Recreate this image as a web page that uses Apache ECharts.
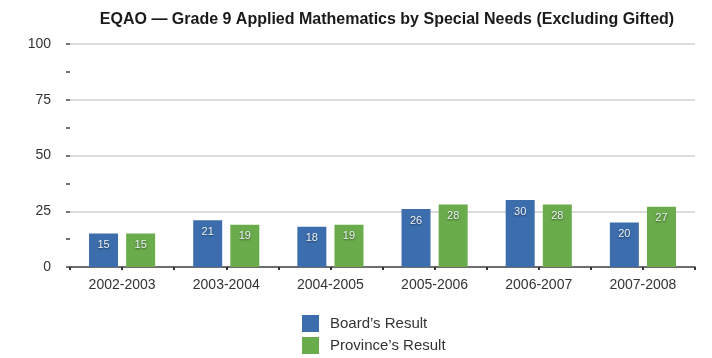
<!DOCTYPE html>
<html>
<head>
<meta charset="utf-8">
<script src="https://cdn.jsdelivr.net/npm/echarts@6/dist/echarts.min.js"></script>
<style>
  html, body { margin: 0; padding: 0; background: #ffffff; }
  #chart { width: 712px; height: 358px; }
</style>
</head>
<body>
<div id="chart"></div>
<script>
// School years shown along the bottom
const years = ['2002-2003', '2003-2004', '2004-2005', '2005-2006', '2006-2007', '2007-2008'];
// Percentage of students at or above the provincial standard
const boardResult = [15, 21, 18, 26, 30, 20];
const provinceResult = [15, 19, 19, 28, 28, 27];
// Value-axis ticks
const yTicks = [0, 25, 50, 75, 100];
// Series names
const seriesNames = ['Board\u2019s Result', 'Province\u2019s Result'];

const FONT = '"Liberation Sans", Arial, Helvetica, sans-serif';
const BLUE = '#3c6eae';
const GREEN = '#6aab4b';

const chart = echarts.init(document.getElementById('chart'));

const barLabel = {
  show: true,
  position: 'insideTop',
  distance: 6,
  color: '#eef2f6',
  fontFamily: FONT,
  fontSize: 11,
  textShadowColor: 'rgba(0,0,0,0.55)',
  textShadowBlur: 2,
  textShadowOffsetY: 1
};

const legendBase = {
  left: 302,
  padding: 0,
  itemWidth: 17,
  itemHeight: 17,
  icon: 'rect',
  textStyle: { fontFamily: FONT, fontSize: 15, color: '#333333', padding: [0, 0, 0, 6] }
};

const gridBox = { left: 70, right: 17, top: 44, bottom: 91 };

chart.setOption({
  animation: false,
  backgroundColor: '#ffffff',
  title: {
    text: 'EQAO \u2014 Grade 9 Applied Mathematics by Special Needs (Excluding Gifted)',
    left: 382,
    textAlign: 'center',
    top: 7,
    textStyle: { fontFamily: FONT, fontSize: 16, fontWeight: 'bold', color: '#1a1a1a' }
  },
  legend: [
    Object.assign({}, legendBase, { top: 315, data: [seriesNames[0]] }),
    Object.assign({}, legendBase, { top: 337, data: [seriesNames[1]] })
  ],
  // second grid overlays the first and only carries the baseline tick marks
  grid: [Object.assign({}, gridBox), Object.assign({}, gridBox)],
  xAxis: [
    {
      type: 'category',
      gridIndex: 0,
      data: years,
      axisLine: { show: true, onZero: false, lineStyle: { color: '#4a4a4a', width: 1.5 } },
      axisTick: { show: false },
      axisLabel: { fontFamily: FONT, fontSize: 14, color: '#333333', margin: 11 }
    },
    {
      // a tick at every category edge and every category centre
      type: 'value',
      gridIndex: 1,
      position: 'bottom',
      min: 0,
      max: years.length * 2,
      interval: 1,
      axisLine: { show: false },
      axisTick: { show: true, length: 3, lineStyle: { color: '#333333', width: 2 } },
      axisLabel: { show: false },
      splitLine: { show: false }
    }
  ],
  yAxis: [
    {
      type: 'value',
      gridIndex: 0,
      min: yTicks[0],
      max: yTicks[yTicks.length - 1],
      interval: 25,
      axisLine: { show: false },
      axisTick: { show: true, inside: false, length: 4, lineStyle: { color: '#444444', width: 1.5 } },
      minorTick: { show: true, splitNumber: 2, length: 4, lineStyle: { color: '#444444', width: 1.5 } },
      axisLabel: { fontFamily: FONT, fontSize: 14, color: '#333333', margin: 19 },
      splitLine: { show: true, lineStyle: { color: '#cfcfcf', width: 1.5 } }
    },
    {
      type: 'value',
      gridIndex: 1,
      min: 0,
      max: 1,
      show: false
    }
  ],
  series: [
    {
      name: seriesNames[0],
      type: 'bar',
      data: boardResult,
      barWidth: 29,
      barGap: '28%',
      itemStyle: { color: BLUE },
      label: barLabel
    },
    {
      name: seriesNames[1],
      type: 'bar',
      data: provinceResult,
      barWidth: 29,
      itemStyle: { color: GREEN },
      label: barLabel
    }
  ]
});
</script>
</body>
</html>
